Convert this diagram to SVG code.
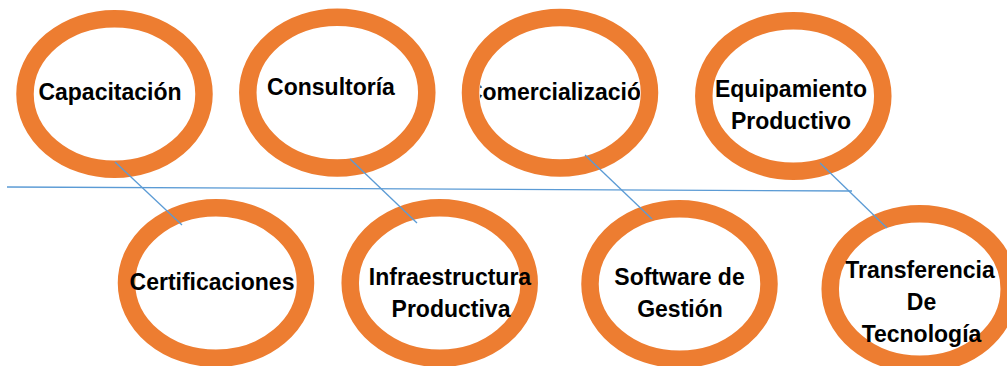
<svg xmlns="http://www.w3.org/2000/svg" width="1007" height="366" viewBox="0 0 1007 366">
<style>
.ring{fill:#ffffff;stroke:#ED7D31;stroke-width:17.5}
.lbl{font-family:"Liberation Sans",Arial,sans-serif;font-weight:bold;font-size:23px;fill:#000000;text-anchor:middle}
.con{stroke:#5B9BD5;stroke-width:1.3;fill:none}
</style>
<defs>
<clipPath id="clipCom"><ellipse cx="560" cy="92.7" rx="80" ry="67"/></clipPath>
</defs>
<rect width="1007" height="366" fill="#ffffff"/>
<g id="n-capacitacion">
<ellipse class="ring" cx="114.5" cy="94" rx="89.5" ry="75.3"/>
<text class="lbl" x="110" y="100">Capacitación</text>
</g>
<g id="n-consultoria">
<ellipse class="ring" cx="337.3" cy="92.6" rx="89.5" ry="75.3"/>
<text class="lbl" x="331" y="95">Consultoría</text>
</g>
<g id="n-comercializacion">
<ellipse class="ring" cx="560" cy="92.7" rx="89.5" ry="75.3"/>
<text class="lbl" x="560.5" y="100" clip-path="url(#clipCom)">Comercialización</text>
</g>
<g id="n-equipamiento">
<ellipse class="ring" cx="793.3" cy="96" rx="89.5" ry="75.3"/>
<text class="lbl" x="791" y="97">Equipamiento</text>
<text class="lbl" x="791" y="128.5">Productivo</text>
</g>
<g id="n-certificaciones">
<ellipse class="ring" cx="216" cy="283" rx="89.5" ry="75.3"/>
<text class="lbl" x="212" y="290">Certificaciones</text>
</g>
<g id="n-infraestructura">
<ellipse class="ring" cx="439.7" cy="283" rx="89.5" ry="75.3"/>
<text class="lbl" x="450" y="285">Infraestructura</text>
<text class="lbl" x="451" y="316.7">Productiva</text>
</g>
<g id="n-software">
<ellipse class="ring" cx="679.5" cy="284" rx="89.5" ry="75.3"/>
<text class="lbl" x="679.5" y="285">Software de</text>
<text class="lbl" x="680" y="316.7">Gestión</text>
</g>
<g id="n-transferencia">
<ellipse class="ring" cx="919.7" cy="289" rx="89.5" ry="75.3"/>
<text class="lbl" x="920" y="278.3">Transferencia</text>
<text class="lbl" x="921.5" y="310">De</text>
<text class="lbl" x="921.5" y="341.7">Tecnología</text>
</g>
<g id="connectors">
<line class="con" x1="7" y1="187" x2="852" y2="191" stroke-width="1.5"/>
<line class="con" x1="115" y1="162" x2="182" y2="225"/>
<line class="con" x1="350" y1="159" x2="417" y2="223"/>
<line class="con" x1="585" y1="155" x2="652" y2="219"/>
<line class="con" x1="820" y1="163" x2="887" y2="228"/>
</g>
</svg>
